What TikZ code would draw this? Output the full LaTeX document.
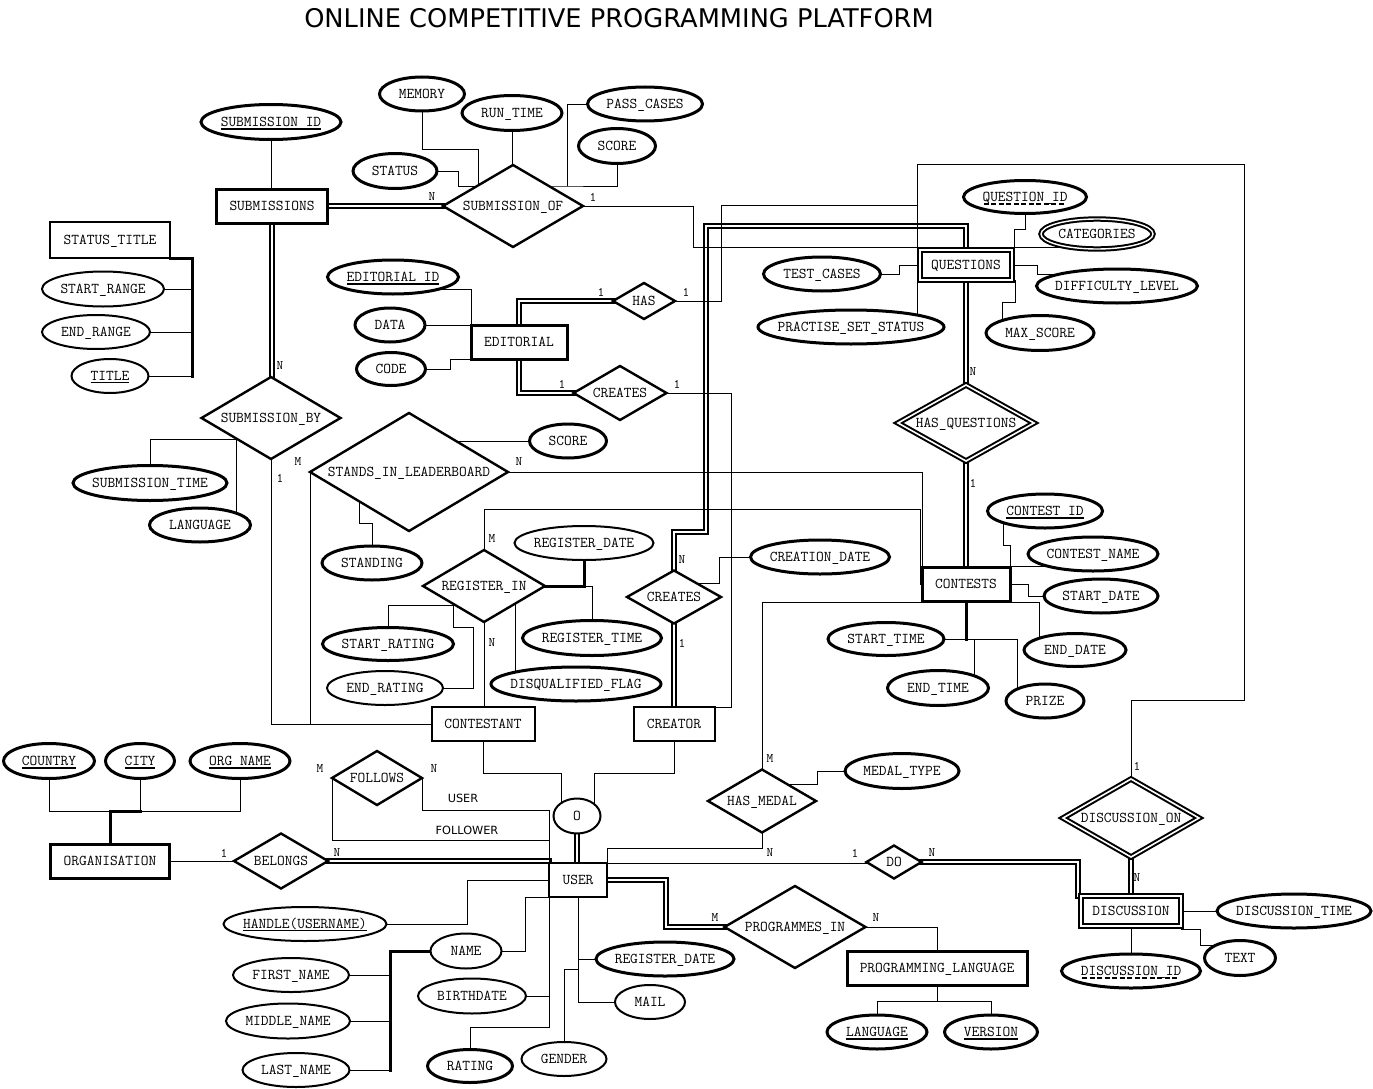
\documentclass[tikz,border=0pt]{standalone}
\usepackage{fontspec}
\newfontfamily\titlefont{DejaVu Sans}
\usepackage{tikz}
\usetikzlibrary{shapes.geometric}
\pgfdeclarelayer{bg}
\pgfsetlayers{bg,main}

% key attributes: solid, thin and dashed underlines
\newcommand{\pk}[1]{\setbox0=\hbox{#1}\rlap{\rule[-3.5pt]{\wd0}{2.4pt}}\box0}
\newcommand{\pkthin}[1]{\setbox0=\hbox{#1}\rlap{\rule[-2.5pt]{\wd0}{1pt}}\box0}
\newcommand{\pkd}[1]{\setbox0=\hbox{#1}\rlap{\hbox to \wd0{\leaders\hbox to 7.5pt{\hss\rule[-3.5pt]{5pt}{2.4pt}\hss}\hfill}}\box0}

\begin{document}
\begin{tikzpicture}[x=1pt, y=-1pt, line width=2pt,
		base/.style   = {fill=white, inner sep=0pt, outer sep=0pt, text height=9pt, text depth=0pt, font=\ttfamily\fontsize{15}{17}\selectfont},
		zw/.style     = {execute at begin node={\hbox to 0pt\bgroup\hss}, execute at end node={\hss\egroup}},
		wh/.style 2 args = {minimum width=#1pt, minimum height=#2pt},
		ent/.style    = {base, draw, rectangle, line width=2pt},
		strong/.style = {ent, line width=3pt},
		weak/.style   = {ent, double, double distance=2pt, line width=2pt},
		rel/.style    = {base, zw, draw, diamond, line width=2.4pt},
		wrel/.style   = {rel, double, double distance=1.6pt, line width=2pt},
		attr/.style   = {base, zw, draw, ellipse, line width=3pt},
		tattr/.style  = {attr, line width=2pt},
		mattr/.style  = {attr, double, double distance=1.4pt, line width=2pt},
		card/.style   = {font=\ttfamily\fontsize{13}{15}\selectfont, inner sep=0pt},
		role/.style   = {font=\titlefont\fontsize{11.3}{13}\selectfont, inner sep=0pt, anchor=base},
		dbl/.style    = {double, double distance=2pt, line width=2pt},
		thickline/.style = {line width=3pt}]
		
		\useasboundingbox (0,0) rectangle (1373,1089);
		\node[font=\titlefont\fontsize{25.7}{30}\selectfont, anchor=base] (hdr) at (619,28) {ONLINE COMPETITIVE PROGRAMMING PLATFORM};
		
		% entities
		\node[strong, wh={111}{34}] (subs) at (272,206) {SUBMISSIONS};
		\node[ent, wh={120}{36}] (stitle) at (110,240) {STATUS\_TITLE};
		\node[strong, wh={96}{34}] (edit) at (519,342) {EDITORIAL};
		\node[weak, wh={92}{30}] (quest) at (966,265) {QUESTIONS};
		\node[strong, wh={88}{34}] (cont) at (966,584) {CONTESTS};
		\node[ent, wh={103}{34}] (cstnt) at (483,724) {CONTESTANT};
		\node[ent, wh={81}{34}] (crtr) at (674,724) {CREATOR};
		\node[strong, wh={119}{34}] (org) at (110,861) {ORGANISATION};
		\node[ent, wh={58}{34}] (user) at (578,880) {USER};
		\node[strong, wh={180}{34}] (plang) at (937,968) {PROGRAMMING\_LANGUAGE};
		\node[weak, wh={100}{30}] (disc) at (1131,911) {DISCUSSION};
		
		% relationships
		\node[rel, wh={140}{82}] (subof) at (513,206) {SUBMISSION\_OF};
		\node[rel, wh={139}{82}] (subby) at (271,418) {SUBMISSION\_BY};
		\node[rel, wh={62}{36}] (has) at (644,301) {HAS};
		\node[rel, wh={93}{54}] (ecreates) at (620,393) {CREATES};
		\node[rel, wh={198}{118}] (stands) at (409,472) {STANDS\_IN\_LEADERBOARD};
		\node[rel, wh={122}{72}] (regin) at (484,586) {REGISTER\_IN};
		\node[rel, wh={94}{53}] (ccreates) at (674,597) {CREATES};
		\node[wrel, wh={136}{76}] (hasq) at (966,423) {HAS\_QUESTIONS};
		\node[rel, wh={108}{63}] (hasmedal) at (762,801) {HAS\_MEDAL};
		\node[rel, wh={90}{54}] (follows) at (377,778) {FOLLOWS};
		\node[rel, wh={94}{55}] (belongs) at (281,861) {BELONGS};
		\node[rel, wh={55}{33}] (do) at (894,862) {DO};
		\node[rel, wh={141}{82}] (progin) at (795,927) {PROGRAMMES\_IN};
		\node[wrel, wh={136}{78}] (discon) at (1131,818) {DISCUSSION\_ON};
		\node[tattr, wh={47}{35}] (ocirc) at (577,816) {O};
		
		% attributes
		\node[attr, wh={140}{35}] (subid) at (271,122) {\pk{SUBMISSION\_ID}};
		\node[attr, wh={85}{34}] (memory) at (422,94) {MEMORY};
		\node[attr, wh={100}{35}] (runtime) at (512,113) {RUN\_TIME};
		\node[attr, wh={115}{34}] (passcases) at (645,104) {PASS\_CASES};
		\node[attr, wh={77}{35}] (score) at (617,146) {SCORE};
		\node[attr, wh={84}{35}] (status) at (395,171) {STATUS};
		\node[tattr, wh={122}{35}] (srange) at (103,289) {START\_RANGE};
		\node[tattr, wh={108}{34}] (erange) at (96,332) {END\_RANGE};
		\node[tattr, wh={77}{34}] (ttl) at (110,376) {\pkthin{TITLE}};
		\node[attr, wh={131}{34}] (editid) at (393,277) {\pk{EDITORIAL\_ID}};
		\node[attr, wh={70}{34}] (data) at (390,325) {DATA};
		\node[attr, wh={69}{33}] (code) at (391,369) {CODE};
		\node[attr, wh={123}{33}] (qid) at (1025,197) {\pkd{QUESTION\_ID}};
		\node[mattr, wh={112}{30}] (catg) at (1097,234) {CATEGORIES};
		\node[attr, wh={117}{34}] (testc) at (822,274) {TEST\_CASES};
		\node[attr, wh={161}{34}] (diff) at (1117,286) {DIFFICULTY\_LEVEL};
		\node[attr, wh={186}{34}] (pss) at (851,327) {PRACTISE\_SET\_STATUS};
		\node[attr, wh={108}{35}] (maxs) at (1040,333) {MAX\_SCORE};
		\node[attr, wh={154}{35}] (subtime) at (150,483) {SUBMISSION\_TIME};
		\node[attr, wh={101}{34}] (lang1) at (200,525) {LANGUAGE};
		\node[attr, wh={77}{34}] (lscore) at (568,441) {SCORE};
		\node[attr, wh={100}{34}] (standing) at (372,563) {STANDING};
		\node[tattr, wh={139}{34}] (regdate) at (584,543) {REGISTER\_DATE};
		\node[attr, wh={139}{35}] (regtime) at (592,638) {REGISTER\_TIME};
		\node[attr, wh={131}{33}] (srating) at (388,644) {START\_RATING};
		\node[tattr, wh={116}{34}] (erating) at (385,688) {END\_RATING};
		\node[attr, wh={170}{34}] (dflag) at (576,684) {DISQUALIFIED\_FLAG};
		\node[attr, wh={139}{34}] (cdate) at (820,557) {CREATION\_DATE};
		\node[attr, wh={115}{34}] (cid) at (1045,511) {\pk{CONTEST\_ID}};
		\node[attr, wh={130}{34}] (cname) at (1093,554) {CONTEST\_NAME};
		\node[attr, wh={114}{34}] (sdate) at (1101,596) {START\_DATE};
		\node[attr, wh={102}{33}] (edate) at (1075,650) {END\_DATE};
		\node[attr, wh={116}{33}] (stime) at (886,639) {START\_TIME};
		\node[attr, wh={101}{35}] (etime) at (938,688) {END\_TIME};
		\node[attr, wh={78}{34}] (prize) at (1045,701) {PRIZE};
		\node[attr, wh={114}{35}] (medal) at (902,771) {MEDAL\_TYPE};
		\node[attr, wh={91}{35}] (country) at (49,761) {\pk{COUNTRY}};
		\node[attr, wh={69}{35}] (city) at (140,761) {\pk{CITY}};
		\node[attr, wh={100}{35}] (orgname) at (240,761) {\pk{ORG\_NAME}};
		\node[tattr, wh={163}{34}] (handle) at (305,924) {\pkthin{HANDLE(USERNAME)}};
		\node[tattr, wh={71}{35}] (uname) at (466,951) {NAME};
		\node[tattr, wh={116}{34}] (fname) at (291,975) {FIRST\_NAME};
		\node[tattr, wh={124}{35}] (mname) at (288,1021) {MIDDLE\_NAME};
		\node[tattr, wh={107}{34}] (lname) at (296,1070) {LAST\_NAME};
		\node[tattr, wh={108}{35}] (bdate) at (472,996) {BIRTHDATE};
		\node[attr, wh={85}{33}] (rating) at (470,1066) {RATING};
		\node[tattr, wh={85}{34}] (gender) at (564,1059) {GENDER};
		\node[attr, wh={138}{34}] (uregdate) at (665,959) {REGISTER\_DATE};
		\node[tattr, wh={70}{34}] (mail) at (650,1002) {MAIL};
		\node[attr, wh={100}{34}] (language) at (877,1032) {\pk{LANGUAGE}};
		\node[attr, wh={93}{34}] (version) at (991,1032) {\pk{VERSION}};
		\node[attr, wh={154}{34}] (dtime) at (1294,911) {DISCUSSION\_TIME};
		\node[attr, wh={71}{35}] (txt) at (1240,958) {TEXT};
		\node[attr, wh={139}{34}] (did) at (1131,971) {\pkd{DISCUSSION\_ID}};
		
		% cardinalities and roles
		\foreach \x/\y/\t [count=\i] in {432/197/N, 593/197/1, 280/366/N, 280/478/1, 298/462/M, 519/462/N,
			601/292/1, 686/292/1, 562/384/1, 677/384/1, 492/539/M, 492/643/N, 682/560/N, 682/643/1,
			973/372/N, 973/483/1, 770/759/M, 770/853/N, 855/853/1, 932/853/N, 1137/766/1, 1137/878/N,
			715/918/M, 876/918/N, 224/853/1, 337/853/N, 320/769/M, 434/769/N}
		\node[card] (k\i) at (\x,\y) {\t};
		\node[role] (r1) at (463,802) {USER};
		\node[role] (r2) at (467,834) {FOLLOWER};
		
		\begin{pgfonlayer}{bg}
			\begin{scope}[line cap=rect]
				% total participation (double lines) first
				\draw[dbl] (subs) -- (subof);
				\draw[dbl] (subs) -- (subs |- subby);
				\draw[dbl] (edit) |- (has);
				\draw[dbl] (edit) |- (ecreates);
				\draw[dbl] (ccreates) |- (706,532) |- (966,226) -- (quest);
				\draw[dbl] (ccreates) -- (crtr);
				\draw[dbl] (quest) -- (hasq);
				\draw[dbl] (hasq) -- (cont);
				\draw[dbl] (ocirc) -- (ocirc |- user);
				\draw[dbl] (do) -| ([xshift=-3pt]disc.north west);
				\draw[dbl] (discon) -- (disc);
				\draw[dbl] (user) -| (666,927) -- (progin);
				\draw[dbl] (belongs) -- (belongs -| user.west);
				
				% submissions
				\draw (subid) -- (subid |- subs);
				\draw (status) -| (458,186) -| (subof);
				\draw (memory) |- (478,149) |- (subof);
				\draw (runtime) -- (runtime |- subof);
				\draw (passcases) -| (567,186);
				\draw (score) |- (550,186) -| (subof);
				\draw (subof) -| (693,247) -| (quest);
				\draw (subtime) |- (236,439) |- (subby);
				\draw (lang1) -| (236,439);
				\draw (subby) |- (cstnt);
				
				% status title
				\draw[thickline] (stitle.south east) -| (192,376);
				\draw (192,376) -- (ttl);
				\draw (srange) -- ++(89,0);
				\draw (erange) -- ++(96,0);
				
				% editorial
				\draw ([yshift=-12pt]editid.center) -| (edit.north west);
				\draw (data) -- (data -| edit);
				\draw (code) -| (450,359) -- (edit.south west);
				\draw (has) -| (721,205) -- (917,205);
				\draw (ecreates) -| (731,707) -| (crtr);
				
				% questions
				\draw (discon) |- (1244,700) |- (917,164) -- ([xshift=-3pt]quest.north west);
				\draw ([xshift=-3pt]quest.south west) -- ++(0,40);
				\draw (qid) |- (1014,229) |- (quest);
				\draw ([yshift=3pt]quest.north east) -- ++(50,0);
				\draw (testc) -| (899,265) -- (quest);
				\draw (quest) -| (1037,274) -- ([yshift=12pt]diff.center);
				\draw ([xshift=3pt]quest.south east) |- (1002,302) -- ([xshift=-38pt]maxs.center);
				
				% leaderboard and registration
				\draw (stands.west) |- (cstnt);
				\draw (lscore) -- (lscore -| stands);
				\draw (standing) |- (359,523) |- (stands);
				\draw (stands) -| (cont.north west);
				\draw (regin) |- (920,509) |- (cont);
				\draw[thickline] (regin) -| (regdate);
				\draw (regin) -| (regtime);
				\draw (srating) |- (453,605) |- (regin);
				\draw (erating) -| (473,627) -| (453,605);
				\draw ([xshift=-61pt]dflag.center) |- (regin);
				\draw (regin) -- (regin |- cstnt);
				\draw (cdate) -| (719,583) -| (ccreates);
				
				% contests
				\draw ([xshift=-42pt]cid.center) |- (1010,545) -- (cont.north east);
				\draw ([yshift=1pt]cont.north east) -- ++(40,0);
				\draw (cont) -| (1028,596) -- (sdate);
				\draw ([yshift=-1pt]cont.south east) -| ([xshift=-36pt]edate.center);
				\draw[thickline] (cont) -- (cont |- stime);
				\draw (stime) -| ([xshift=-28pt]prize.center);
				\draw ([xshift=36pt]etime.center) -- ++(0,-49);
				
				% user specialisation and medals
				\draw (cstnt) |- (561,773) |- (ocirc);
				\draw (crtr) |- (594,773) |- (ocirc);
				\draw (hasmedal) |- ([yshift=-1pt]cont.south west);
				\draw (medal) -| (817,784) -| (hasmedal);
				\draw (hasmedal) |- (607,848) -- (user.north east);
				
				% discussion
				\draw (user.north east) -- (user.north east -| do);
				\draw (disc) -- (dtime);
				\draw ([yshift=-3pt]disc.south east) -| (1200,945) -- ++(30,0);
				\draw (disc) -- (did);
				
				% programming language
				\draw (progin) -| (plang);
				\draw (language) |- (937,1001) -- (plang);
				\draw (version) |- (937,1001);
				
				% organisation
				\draw (org) -- (belongs);
				\draw (country) |- (240,811) -- (orgname);
				\draw (city) -- ++(0,50);
				\draw[thickline] (org) |- (140,811);
				
				% user attributes
				\draw (follows.west) |- (549,840);
				\draw (follows.east) |- (549,810) -- (user.north west);
				\draw (handle) -| (467,880) -- (user);
				\draw (uname) -| (525,897) -- (user.south west);
				\draw[thickline] (uname) -| (390,1070);
				\draw (fname) -- ++(99,0);
				\draw (mname) -- ++(102,0);
				\draw (lname) -- ++(94,0);
				\draw (bdate) -- (bdate -| user.west);
				\draw (rating) |- (549,1027) -- (user.south west);
				\draw (gender) |- (578,969);
				\draw (user) |- (mail);
				\draw (uregdate) -| (user);
			\end{scope}
		\end{pgfonlayer}
		
	\end{tikzpicture}
\end{document}
